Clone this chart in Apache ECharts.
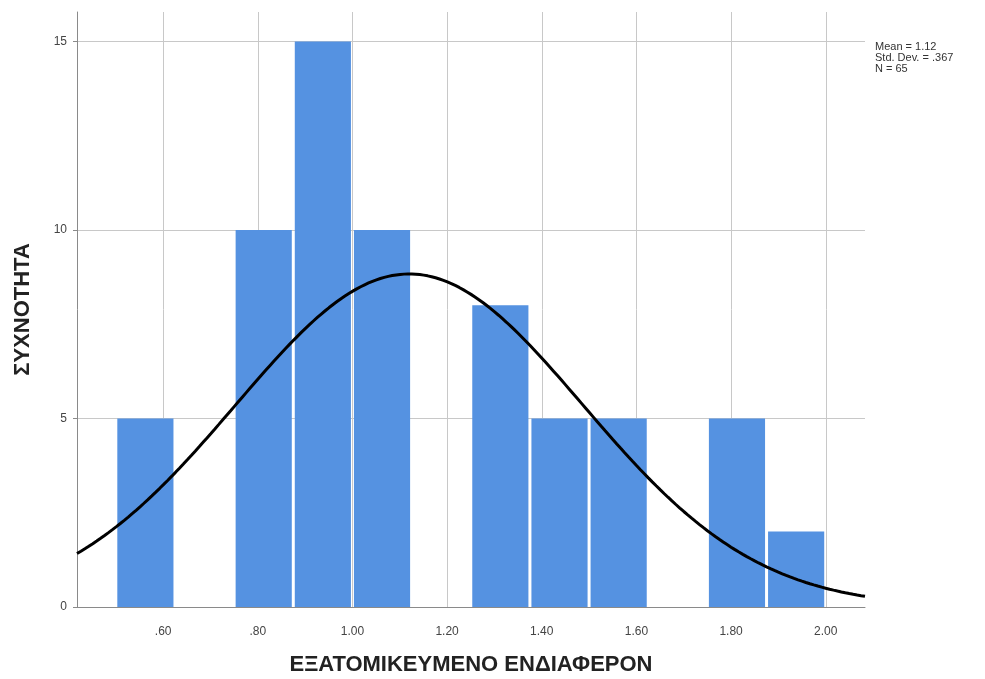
<!DOCTYPE html>
<html>
<head>
<meta charset="utf-8">
<script src="https://cdn.jsdelivr.net/npm/echarts@6/dist/echarts.min.js"></script>
<style>
  html, body { margin: 0; padding: 0; background: #fff; }
  #chart { width: 985px; height: 679px; }
</style>
</head>
<body>
<div id="chart"></div>
<script>
// Histogram bins (lower edge, upper edge) and frequencies
const binStarts = [0.500, 0.625, 0.750, 0.875, 1.000, 1.125, 1.250, 1.375, 1.500, 1.625, 1.750, 1.875];
const binEnds   = [0.625, 0.750, 0.875, 1.000, 1.125, 1.250, 1.375, 1.500, 1.625, 1.750, 1.875, 2.000];
const counts    = [5, 0, 10, 15, 10, 0, 8, 5, 5, 0, 5, 2];

// Summary statistics shown beside the plot
const MEAN = 1.12;
const SD = 0.367;
const N = 65;
const BIN_WIDTH = 0.125;

// Axis ticks and ranges
const xTicks = [0.6, 0.8, 1.0, 1.2, 1.4, 1.6, 1.8, 2.0];
const X_MIN = 0.418, X_MAX = 2.083;
const Y_MAX = 15.78;

const xTitle = 'ΕΞΑΤΟΜΙΚΕΥΜΕΝΟ ΕΝΔΙΑΦΕΡΟΝ';
const yTitle = 'ΣΥΧΝΟΤΗΤΑ';
const statsLines = ['Mean = 1.12', 'Std. Dev. = .367', 'N = 65'];

// Normal curve scaled to frequency counts
const curve = [];
const steps = 200;
for (let i = 0; i <= steps; i++) {
  const x = X_MIN + (X_MAX - X_MIN) * i / steps;
  const z = (x - MEAN) / SD;
  const y = N * BIN_WIDTH / (SD * Math.sqrt(2 * Math.PI)) * Math.exp(-0.5 * z * z);
  curve.push([x, y]);
}

const histData = binStarts.map((s, i) => [s, binEnds[i], counts[i]]);
const fmtTick = v => (v < 1 ? v.toFixed(2).replace(/^0/, '') : v.toFixed(2));
const titleFont = { color: '#222', fontSize: 22, fontWeight: 'bold', fontFamily: 'Liberation Sans, Arial, sans-serif' };

const chart = echarts.init(document.getElementById('chart'), null, { renderer: 'canvas' });
chart.setOption({
  animation: false,
  backgroundColor: '#fff',
  grid: { left: 77, right: 120, top: 12, bottom: 72, outerBoundsMode: 'none', containLabel: false },
  xAxis: {
    type: 'value',
    min: X_MIN,
    max: X_MAX,
    axisLine: { show: true, lineStyle: { color: '#8a8a8a', width: 1 } },
    axisTick: { show: false },
    splitLine: { show: false },
    axisLabel: {
      customValues: xTicks,
      formatter: fmtTick,
      color: '#444',
      fontFamily: 'Liberation Sans, Arial, sans-serif',
      fontSize: 12,
      margin: 19
    },
    name: xTitle,
    nameLocation: 'middle',
    nameGap: 47,
    nameTextStyle: titleFont
  },
  yAxis: {
    type: 'value',
    min: 0,
    max: Y_MAX,
    interval: 5,
    axisLine: { show: true, lineStyle: { color: '#8a8a8a', width: 1 } },
    axisTick: { show: true, length: 4, lineStyle: { color: '#8a8a8a' } },
    splitLine: { show: true, showMaxLine: false, lineStyle: { color: '#c8c8c8', width: 1 } },
    axisLabel: {
      showMaxLabel: false,
      color: '#444',
      fontFamily: 'Liberation Sans, Arial, sans-serif',
      fontSize: 12,
      margin: 10
    },
    name: yTitle,
    nameLocation: 'middle',
    nameGap: 43,
    nameTextStyle: titleFont
  },
  graphic: [{
    type: 'text',
    left: 875,
    top: 41,
    style: {
      text: statsLines.join('\n'),
      fill: '#333',
      font: '11px "Liberation Sans", Arial, sans-serif',
      lineHeight: 11
    }
  }],
  series: [
    {
      // vertical grid lines at each labelled x value, behind the bars
      type: 'custom',
      data: xTicks,
      silent: true,
      z: 1,
      renderItem: function (params, api) {
        const a = api.coord([api.value(0), 0]);
        const b = api.coord([api.value(0), Y_MAX]);
        return {
          type: 'line',
          shape: { x1: Math.round(a[0]) + 0.5, y1: a[1], x2: Math.round(b[0]) + 0.5, y2: b[1] },
          style: { stroke: '#c8c8c8', lineWidth: 1 }
        };
      }
    },
    {
      type: 'custom',
      data: histData,
      z: 2,
      renderItem: function (params, api) {
        const p0 = api.coord([api.value(0), api.value(2)]);
        const p1 = api.coord([api.value(1), 0]);
        const inset = 1.5;
        return {
          type: 'rect',
          shape: { x: p0[0] + inset, y: p0[1], width: p1[0] - p0[0] - 2 * inset, height: p1[1] - p0[1] },
          style: { fill: '#5592E1' }
        };
      }
    },
    {
      type: 'line',
      data: curve,
      showSymbol: false,
      smooth: false,
      z: 3,
      lineStyle: { color: '#000', width: 3 }
    }
  ]
});
</script>
</body>
</html>
